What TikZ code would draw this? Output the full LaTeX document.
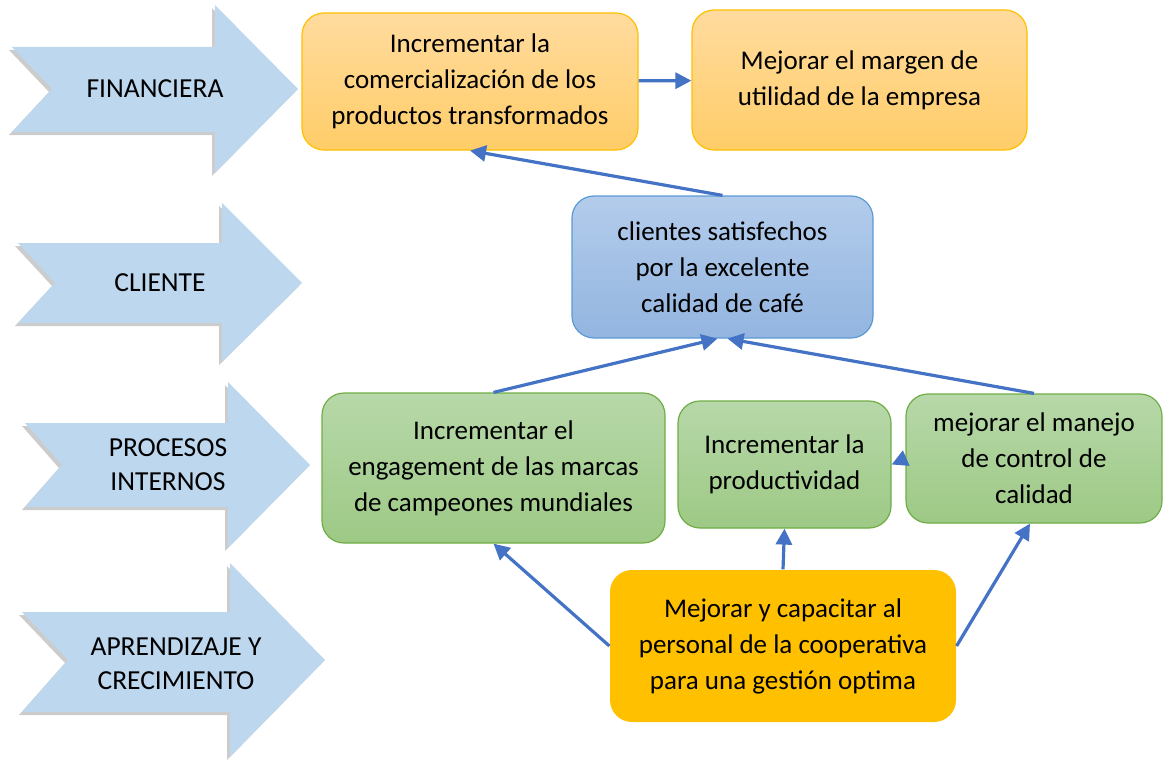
\documentclass[tikz,border=0pt]{standalone}
\usepackage{fontspec}
\setmainfont{Carlito}
\usetikzlibrary{arrows.meta}

\definecolor{perspfill}{HTML}{BDD7EE}
\definecolor{fintop}{HTML}{FFDB9E}
\definecolor{finbot}{HTML}{FFCD68}
\definecolor{finline}{HTML}{FFC000}
\definecolor{clitop}{HTML}{B3CCEB}
\definecolor{clibot}{HTML}{93B5E0}
\definecolor{cliline}{HTML}{5B9BD5}
\definecolor{proctop}{HTML}{B7D8A9}
\definecolor{procbot}{HTML}{9DC985}
\definecolor{procline}{HTML}{70AD47}
\definecolor{aprfill}{HTML}{FFC000}
\definecolor{connblue}{HTML}{4472C4}

\begin{document}
\begin{tikzpicture}[x=1pt,y=-1pt]
% STYLES
\tikzset{%
    persp/.style={%
        fill=perspfill,
        preaction={fill=black,opacity=0.2,transform canvas={shift={(-3pt,-3pt)}}}
    },
    plabel/.style={align=center,font=\fontsize{27.5}{34}\selectfont},
    box/.style={%
        rectangle,rounded corners=22pt,align=center,inner sep=0pt,
        line width=1.2pt,font=\fontsize{27}{36}\selectfont
    },
    finbox/.style={box,draw=finline,top color=fintop,bottom color=finbot},
    clibox/.style={box,draw=cliline,top color=clitop,bottom color=clibot},
    procbox/.style={box,draw=procline,top color=proctop,bottom color=procbot},
    aprbox/.style={box,fill=aprfill},
    conn/.style={draw=connblue,line width=3.2pt,-{Triangle[length=16pt,width=16pt]}}
}
\useasboundingbox (0,0) rectangle (1163,760);
% Draw perspectives
\path[persp] (12,47) -- (215,47) -- (215,5) -- (298,89) -- (215,173)
    -- (215,132) -- (12,132) -- (52,89) -- cycle;
\path[persp] (18,243) -- (222,243) -- (222,203) -- (302,283) -- (222,362)
    -- (222,323) -- (18,323) -- (55,283) -- cycle;
\path[persp] (25,423) -- (228,423) -- (228,382) -- (310,465) -- (228,548)
    -- (228,507) -- (25,507) -- (62,465) -- cycle;
\path[persp] (22,612) -- (230,612) -- (230,563) -- (325,660) -- (230,757)
    -- (230,712) -- (22,712) -- (68,660) -- cycle;
\node [plabel] (financiera) at (155,89) {FINANCIERA};
\node [plabel] (cliente) at (160,283) {CLIENTE};
\node [plabel] (procesos) at (168,465) {PROCESOS\\INTERNOS};
\node [plabel] (aprendizaje) at (176,664) {APRENDIZAJE Y\\CRECIMIENTO};
% Draw objectives
\node [finbox,minimum width=336pt,minimum height=137pt] (comercializacion) at (470,81.5)
    {Incrementar la\\comercialización de los\\productos transformados};
\node [finbox,minimum width=335pt,minimum height=140pt] (margen) at (859.5,80)
    {Mejorar el margen de\\utilidad de la empresa};
\node [clibox,minimum width=301pt,minimum height=142pt] (clientes) at (722.5,267)
    {clientes satisfechos\\por la excelente\\calidad de café};
\node [procbox,minimum width=343pt,minimum height=150pt] (engagement) at (493.5,468)
    {Incrementar el\\engagement de las marcas\\de campeones mundiales};
\node [procbox,minimum width=213pt,minimum height=127pt] (productividad) at (784.5,464.5)
    {Incrementar la\\productividad};
\node [procbox,minimum width=256pt,minimum height=129pt] (calidad) at (1034,458.5)
    {mejorar el manejo\\de control de\\calidad};
\node [aprbox,minimum width=346pt,minimum height=152pt] (personal) at (783,646)
    {Mejorar y capacitar al\\personal de la cooperativa\\para una gestión optima};
% Draw the links between objectives
\path
    (comercializacion) edge[conn] (margen)
    (clientes.north) edge[conn] (comercializacion.south)
    (engagement.north) edge[conn] ([xshift=-5pt]clientes.south)
    (calidad.north) edge[conn] ([xshift=5pt]clientes.south)
    (calidad.west) edge[conn] (productividad.east)
    (personal.west) edge[conn] (engagement.south)
    (personal.north) edge[conn] (productividad.south)
    (personal.east) edge[conn] ([xshift=-4pt]calidad.south);
\end{tikzpicture}
\end{document}
